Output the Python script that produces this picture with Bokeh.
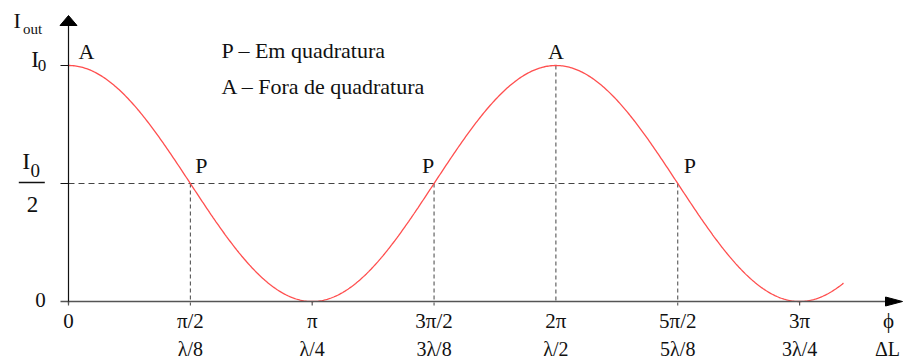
import numpy as np
from bokeh.plotting import figure
from bokeh.models import Range1d
from bokeh.core.properties import value
from bokeh.embed import file_html
from bokeh.resources import INLINE

# ---- data -------------------------------------------------------------
I0 = 1.0
phase_ticks = [0, np.pi / 2, np.pi, 3 * np.pi / 2, 2 * np.pi, 5 * np.pi / 2, 3 * np.pi]
phase_labels = ["0", "π/2", "π", "3π/2", "2π", "5π/2", "3π"]
length_labels = ["", "λ/8", "λ/4", "3λ/8", "λ/2", "5λ/8", "3λ/4"]
quadrature_phases = [np.pi / 2, 3 * np.pi / 2, 5 * np.pi / 2]     # P points
out_of_quad_phases = [0, 2 * np.pi]                                # A points
phase_max = 3.18 * np.pi

# interferometer output: I = I0/2 * (1 + cos(phi))
def intensity(phi):
    return 0.5 * I0 * (1 + np.cos(phi))

phi = np.linspace(0, phase_max, 600)
i_out = intensity(phi)

# ---- scales (pixels per data unit) -----------------------------------
W, H = 904, 362
X0_PX, Y0_PX = 68, 301          # where the axes cross
SX = 243.7 / np.pi              # px per radian
SY = 236.0                      # px per I0

def dx(px):
    return px / SX

def dy(px):
    return px / SY

p = figure(width=W, height=H, output_backend="svg", toolbar_location=None,
           x_range=Range1d(-dx(X0_PX), dx(W - X0_PX)),
           y_range=Range1d(-dy(H - Y0_PX), dy(Y0_PX)),
           min_border=0, outline_line_color=None)
p.axis.visible = False
p.grid.visible = False
p.background_fill_color = "white"
p.border_fill_color = "white"

FONT = value("Liberation Serif")
INK = "#111111"

def label(x, y, txt, size, align="center"):
    p.text(x=x, y=y, text=txt, text_font=FONT, text_font_size=size,
           text_color=INK, text_align=align, text_baseline="middle")

# ---- guide lines ---------------------------------------------------
dash_col = "#444444"
p.line([0, quadrature_phases[-1]], [0.5 * I0, 0.5 * I0], line_color=dash_col,
       line_width=1, line_dash="6 4")
p.segment(x0=quadrature_phases, y0=[intensity(v) for v in quadrature_phases],
          x1=quadrature_phases, y1=[-dy(4)] * 3,
          line_color=dash_col, line_width=1, line_dash="4 3")
p.segment(x0=[2 * np.pi], y0=[I0], x1=[2 * np.pi], y1=[0],
          line_color=dash_col, line_width=1, line_dash="4 3")

# ---- curve ---------------------------------------------------------
p.line(phi, i_out, line_color="#ff4f4f", line_width=1.3)

# ---- axes with arrow heads -------------------------------------------
x_axis_end = dx(902 - X0_PX)
y_axis_end = dy(Y0_PX - 15)
p.line([-dx(8), x_axis_end - dx(10)], [0, 0], line_color="#555555", line_width=1.6)
p.line([0, 0], [-dy(2), y_axis_end - dy(6)], line_color="#111111", line_width=1.2)
p.patch([x_axis_end, x_axis_end - dx(17), x_axis_end - dx(17)],
        [0, dy(4.5), -dy(4.5)], fill_color="black", line_color="black")
p.patch([0, -dx(8.5), dx(8.5)],
        [y_axis_end, y_axis_end - dy(10), y_axis_end - dy(10)],
        fill_color="black", line_color="black")

# small ticks
p.segment(x0=[-dx(8)] * 2, y0=[I0, 0.5 * I0], x1=[0, 0], y1=[I0, 0.5 * I0],
          line_color="#111111", line_width=1.2)
plain_ticks = [v for v in phase_ticks if v not in quadrature_phases and v != 2 * np.pi]
p.segment(x0=plain_ticks, y0=[0] * len(plain_ticks), x1=plain_ticks,
          y1=[-dy(4)] * len(plain_ticks), line_color="#555555", line_width=1.2)

# ---- tick labels -------------------------------------------------------
label(phase_ticks, [-dy(19)] * len(phase_ticks), phase_labels, "21px")
label(phase_ticks, [-dy(47.5)] * len(phase_ticks), length_labels, "20px")
label([x_axis_end - dx(14)], [-dy(19)], ["ϕ"], "21px")
label([x_axis_end - dx(15)], [-dy(47.5)], ["ΔL"], "20px")

# y labels
label([-dx(28)], [dy(2)], ["0"], "21px")
# I0 at the top level
label([-dx(37.3)], [I0 + dy(6.5)], ["I"], "23px", "left")
label([-dx(30.7)], [I0], ["0"], "17px", "left")
# I0 / 2 fraction
label([-dx(46.3)], [0.5 * I0 + dy(22.5)], ["I"], "24px", "left")
label([-dx(38)], [0.5 * I0 + dy(13.5)], ["0"], "19px", "left")
p.line([-dx(49.7), -dx(23.7)], [0.5 * I0 + dy(1), 0.5 * I0 + dy(1)],
       line_color=INK, line_width=1.3)
label([-dx(36)], [0.5 * I0 - dy(21)], ["2"], "23px")
# axis title I_out
label([-dx(55)], [y_axis_end - dy(5)], ["I"], "22px", "left")
label([-dx(45.5)], [y_axis_end - dy(13.2)], ["out"], "15px", "left")

# ---- point markers P / A -------------------------------------------
p_offsets = [11, -6, 12]
label([v + dx(o) for v, o in zip(quadrature_phases, p_offsets)],
      [intensity(v) + dy(18) for v in quadrature_phases], ["P"] * 3, "22px")
a_offsets = [18, 0]
label([v + dx(o) for v, o in zip(out_of_quad_phases, a_offsets)],
      [intensity(v) + dy(14.5) for v in out_of_quad_phases], ["A"] * 2, "22px")

# ---- legend text ---------------------------------------------------
legend_lines = ["P – Em quadratura", "A – Fora de quadratura"]
label([dx(221 - X0_PX)] * 2, [dy(Y0_PX - 49.5), dy(Y0_PX - 85.5)],
      legend_lines, "22px", "left")

open("out.html", "w").write(file_html(p, INLINE))
